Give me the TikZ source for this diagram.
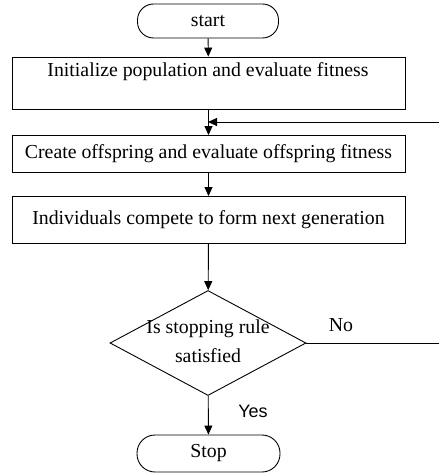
\documentclass[tikz,border=0pt]{standalone}
\usepackage{fontspec}
\setmainfont{Liberation Serif}
\newfontfamily\yesfont{Liberation Sans}
\usetikzlibrary{shapes.geometric,arrows.meta}
\begin{document}
\begin{tikzpicture}[x=1pt,y=-1pt,
  every node/.style={font=\fontsize{19.8}{23}\selectfont},
  line/.style={draw,line width=0.9pt},
  arr/.style={line,-{Triangle[length=9pt,width=8pt]}},
  term/.style={draw,line width=0.9pt,rounded corners=16pt,minimum width=141pt,minimum height=34pt,inner sep=0pt},
  proc/.style={draw,line width=0.9pt,minimum width=393pt,inner sep=0pt},
  dec/.style={draw,line width=0.9pt,diamond,inner sep=0pt,minimum width=196pt,minimum height=105pt}]
\useasboundingbox (0,0) rectangle (439,476);
\node[term] (start) at (208,21) {start};
\node[proc,minimum height=52pt] (init) at (208.5,83) {};
\node (inittext) at (208,72) {Initialize population and evaluate fitness};
\node[proc,minimum height=37pt] (create) at (208.5,154) {Create offspring and evaluate offspring fitness};
\node[proc,minimum height=47pt] (comp) at (208.5,220) {Individuals compete to form next generation};
\node[dec] (dec) at (208,343) {};
\node[align=center,inner sep=0pt,font=\fontsize{19.8}{29}\selectfont] (dectext) at (208,341) {Is stopping rule\\satisfied};
\node[term,minimum width=143pt,minimum height=37pt,rounded corners=18pt] (stop) at (208.5,453.5) {Stop};
\node (no) at (341,325) {No};
\node[font=\yesfont\fontsize{18}{21}\selectfont] (yes) at (253,411) {Yes};
\coordinate (fb) at (439,122);
\coordinate (join) at (208,122);
\coordinate (noend) at (439,343);
\draw[arr] (start) -- (init);
\draw[arr] (init) -- (create);
\draw[arr] (fb) -- (join);
\draw[arr] (create) -- (comp);
\draw[arr] (comp) -- (dec);
\draw[arr] (dec) -- (stop);
\draw[line] (dec.east) -- (noend);
\end{tikzpicture}
\end{document}
